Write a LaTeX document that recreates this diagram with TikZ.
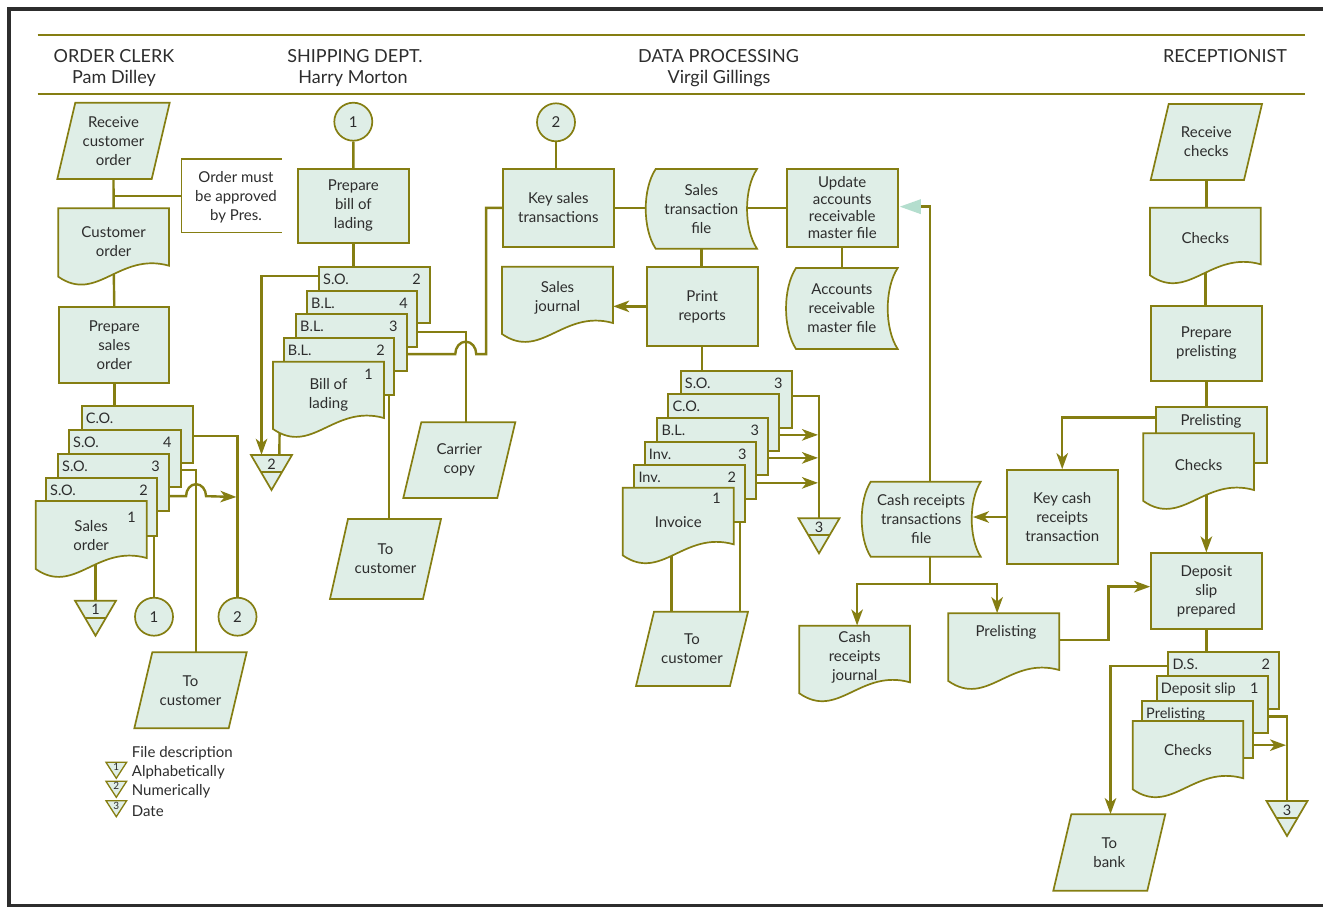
\documentclass[tikz,border=0pt]{standalone}
\usepackage{fontspec}
\setmainfont{Lato}
\usetikzlibrary{arrows.meta,calc}
\definecolor{ol}{RGB}{133,126,18}
\definecolor{fl}{RGB}{223,238,231}
\definecolor{tx}{RGB}{45,45,45}
\definecolor{fr}{RGB}{45,45,45}
\definecolor{tl}{RGB}{180,222,206}
\pgfdeclarelayer{bg}
\pgfsetlayers{bg,main}
\tikzset{
  shp/.style={draw=ol, fill=fl, line width=1.7pt},
  txt/.style={text=tx, font=\fontsize{15}{19}\selectfont, align=center, inner sep=0pt},
  lab/.style={text=tx, font=\fontsize{14.5}{16}\selectfont, inner sep=0pt},
  conn/.style={draw=ol, line width=2.4pt},
  arr/.style={conn, -{Stealth[length=16pt,width=11.5pt,inset=4.5pt]}},
  hdr/.style={text=tx, font=\fontsize{18}{20}\selectfont, inner sep=0pt, anchor=base},
  crc/.style={shp, circle, minimum size=38pt, inner sep=0pt, text=tx, font=\fontsize{15}{19}\selectfont},
}
\newcommand\PBox[6]{%
  \pgfmathsetmacro\myW{#4-#2}\pgfmathsetmacro\myH{#5-#3}%
  \node[shp, txt, minimum width=\myW pt, minimum height=\myH pt] (#1) at ({(#2+#4)/2},{(#3+#5)/2}) {#6};}
\newcommand\DocS[7]{%
  \pgfmathsetmacro\myW{#4-#2}\pgfmathsetmacro\myH{#5-#3}%
  \filldraw[shp] (#2,#3) -- (#4,#3) -- (#4,#5) .. controls ({#2+0.55*\myW},{#5-14}) and ({#2+0.35*\myW},{#5+38}) .. (#2,{#5+11}) -- cycle;
  \node[minimum width=\myW pt, minimum height=\myH pt, inner sep=0pt] (#1) at ({(#2+#4)/2},{(#3+#5)/2}) {};
  \node[txt] at ({(#2+#4)/2},{(#3+#5)/2+#6}) {#7};}
\newcommand\StorS[7]{%
  \pgfmathsetmacro\myW{#4-#2}\pgfmathsetmacro\myH{#5-#3}%
  \pgfmathsetmacro\myA{#3+0.25*\myH}\pgfmathsetmacro\myB{#3+0.75*\myH}%
  \pgfmathsetmacro\myL{#2+#6}\pgfmathsetmacro\myLc{#2-0.33*#6}\pgfmathsetmacro\myRc{#4-1.33*#6}%
  \filldraw[shp] (\myL,#3) -- (#4,#3) .. controls (\myRc,\myA) and (\myRc,\myB) .. (#4,#5) -- (\myL,#5) .. controls (\myLc,\myB) and (\myLc,\myA) .. (\myL,#3) -- cycle;
  \node[txt, minimum width=\myW pt, minimum height=\myH pt] (#1) at ({(#2+#4)/2},{(#3+#5)/2}) {#7};}
\newcommand\ParaS[6]{%
  \pgfmathsetmacro\myW{#4-#2+18}\pgfmathsetmacro\myH{#5-#3}%
  \filldraw[shp] ({#2+18},#3) -- ({#4+18},#3) -- (#4,#5) -- (#2,#5) -- cycle;
  \node[txt, minimum width=\myW pt, minimum height=\myH pt] (#1) at ({(#2+#4)/2+9},{(#3+#5)/2}) {#6};}
\newcommand\SheetS[7]{%
  \pgfmathsetmacro\myW{#4-#2}\pgfmathsetmacro\myH{#5-#3}%
  \node[shp, minimum width=\myW pt, minimum height=\myH pt, inner sep=0pt] (#1) at ({(#2+#4)/2},{(#3+#5)/2}) {};
  \node[lab, anchor=base west] at ({#2+4},{#3+17.5}) {#6};
  \node[lab, anchor=base east] at ({#4-9},{#3+17.5}) {#7};}
\newcommand\FTri[4]{%
  \filldraw[shp, line join=miter] ({#2-20.5},#3) -- ({#2+20.5},#3) -- (#2,{#3+35}) -- cycle;
  \draw[ol, line width=1.7pt] ({#2-10.5},{#3+17}) -- ({#2+10.5},{#3+17});
  \node[minimum width=41pt, minimum height=35pt, inner sep=0pt] (#1) at (#2,{#3+17.5}) {};
  \node[lab] at (#2,{#3+9}) {#4};}
\newcommand\STri[4]{%
  \filldraw[shp, line width=1.3pt] ({#2-10.3},#3) -- ({#2+10.3},#3) -- (#2,{#3+16}) -- cycle;
  \node[text=tx, font=\fontsize{10}{10}\selectfont, inner sep=0pt] (#1) at (#2,{#3+5}) {#4};}

\begin{document}
\begin{tikzpicture}[x=1pt,y=-1pt]
\clip (0,0) rectangle (1323,906);
\begin{pgfonlayer}{bg}
\fill[white] (0,0) rectangle (1323,906);
\end{pgfonlayer}
\draw[fr, line width=4pt] (9,9) rectangle (1340,905.5);
% header
\draw[ol, line width=1.5pt] (37.7,35) -- (1305,35);
\draw[ol, line width=1.5pt] (37.7,94) -- (1305,94);
\node[hdr] (h1) at (114,62) {ORDER CLERK};
\node[hdr] (h1b) at (114,83.5) {Pam Dilley};
\node[hdr] (h2) at (355,62) {SHIPPING DEPT.};
\node[hdr] (h2b) at (353,83.5) {Harry Morton};
\node[hdr] (h3) at (718.5,62) {DATA PROCESSING};
\node[hdr] (h3b) at (719,83.5) {Virgil Gillings};
\node[hdr] (h4) at (1225,62) {RECEPTIONIST};

% ORDER CLERK
\ParaS{rco}{57.3}{102.7}{151.7}{179}{Receive\\customer\\order}
\node[minimum width=100pt, minimum height=73pt, inner sep=0pt] (note) at (231.7,195.8) {};
\draw[ol, line width=1.4pt] (note.north east) -- (note.north west) -- (note.south west) -- (note.south east);
\node[txt] (notet) at (236,197) {Order must\\be approved\\by Pres.};
\DocS{cord}{58.3}{208.3}{169}{265.7}{5}{Customer\\order}
\PBox{pso}{59.3}{307.3}{169.3}{383}{Prepare\\sales\\order}
\SheetS{co}{81.7}{406}{192.7}{463}{C.O.}{}
\SheetS{so4}{69}{430}{180.7}{487}{S.O.}{4}
\SheetS{so3}{58}{454}{169}{511}{S.O.}{3}
\SheetS{so2}{46}{478}{157}{536}{S.O.}{2}
\DocS{so1}{35.7}{501}{146.7}{558}{6}{Sales\\order}
\node[lab, anchor=base east] (so1n) at (136,522) {1};
\node[crc] (oc1) at (154,616.7) {1};
\node[crc] (oc2) at (237.5,616.7) {2};
\FTri{t1}{95.5}{600.7}{1}
\ParaS{tc1}{134.3}{652.3}{228.7}{728.3}{To\\customer}
% legend
\node[txt, anchor=west] (lg0) at (131.7,753) {File description};
\STri{ls1}{116.3}{762.3}{1}
\node[txt, anchor=west] (lg1) at (131.7,772.3) {Alphabetically};
\STri{ls2}{116.3}{781.3}{2}
\node[txt, anchor=west] (lg2) at (131.7,791) {Numerically};
\STri{ls3}{116.3}{800.7}{3}
\node[txt, anchor=west] (lg3) at (131.7,811) {Date};

% SHIPPING
\node[crc] (sc1) at (353.3,121.7) {1};
\PBox{pbl}{298}{169}{408.7}{242.7}{Prepare\\bill of\\lading}
\SheetS{bso}{319}{266.7}{430}{323}{S.O.}{2}
\SheetS{bl4}{307}{290.7}{417}{347}{B.L.}{4}
\SheetS{bl3}{296}{314}{406.7}{371}{B.L.}{3}
\SheetS{bl2}{283.7}{338}{394}{395}{B.L.}{2}
\DocS{bl1}{273}{361.7}{384}{418}{5}{Bill of\\lading}
\node[lab, anchor=base east] (bl1n) at (373,379) {1};
\FTri{t2}{271.5}{455}{2}
\ParaS{car}{403.3}{422.3}{497.3}{498}{Carrier\\copy}
\ParaS{tc2}{330}{519}{423}{599}{To\\customer}

% DATA PROCESSING
\node[crc] (dc2) at (556,122.3) {2};
\PBox{ks}{502.7}{169}{614}{246.7}{Key sales\\transactions}
\StorS{stf}{645.7}{169}{757}{248.7}{10}{Sales\\transaction\\file}
\node[shp, txt, font=\fontsize{15}{17}\selectfont, minimum width=111pt, minimum height=77.7pt] (upd) at (842.2,207.85) {Update\\accounts\\receivable\\master file};
\DocS{sj}{502}{266.7}{613}{323}{3}{Sales\\journal}
\PBox{pr}{646.7}{267}{757.7}{345.7}{Print\\reports}
\StorS{arm}{786}{268}{897.7}{349}{10}{Accounts\\receivable\\master file}
\SheetS{dso}{680.7}{370.7}{791.7}{427.7}{S.O.}{3}
\SheetS{dco}{668.3}{394.3}{779.3}{451}{C.O.}{}
\SheetS{dbl}{657.3}{418.3}{768.3}{475}{B.L.}{3}
\SheetS{din3}{644.7}{442.3}{755.7}{499}{Inv.}{3}
\SheetS{din2}{634.3}{465.3}{745.3}{522.3}{Inv.}{2}
\DocS{inv}{622.7}{487.7}{733.7}{544.3}{6}{Invoice}
\node[lab, anchor=base east] (invn) at (721,503) {1};
\FTri{t3}{819}{518.3}{3}
\ParaS{tc3}{636}{611.7}{730}{686}{To\\customer}
\StorS{crf}{861.7}{481.7}{980.7}{556.7}{9}{Cash receipts\\transactions\\file}
\PBox{kc}{1006.7}{470}{1117.7}{564}{Key cash\\receipts\\transaction}
\DocS{crj}{799.3}{625.7}{910}{682.3}{3}{Cash\\receipts\\journal}
\DocS{prl}{948.3}{613.3}{1059.3}{670}{0}{}
\node[txt] (prlt) at (1006,632) {Prelisting};
\fill[tl] ($(upd.east)+(1.3,-1.2)$) coordinate (updin) -- ++(21,-7.5) -- ++(0,15) -- cycle;

% RECEPTIONIST
\ParaS{rch}{1150.7}{104}{1244}{180}{Receive\\checks}
\DocS{chk}{1150}{207.7}{1260.7}{264.3}{2}{Checks}
\PBox{ppl}{1151}{306}{1261.7}{380.7}{Prepare\\prelisting}
\SheetS{rpl}{1156}{406.7}{1267.3}{463.3}{}{}
\node[lab, font=\fontsize{15}{16}\selectfont, anchor=base] (rplt) at (1211,425) {Prelisting};
\DocS{rck}{1143.3}{433.3}{1254}{490}{3}{Checks}
\PBox{dsp}{1151}{553.3}{1261.7}{629}{Deposit\\slip\\prepared}
\SheetS{rds}{1168.3}{652.3}{1279.3}{709.3}{D.S.}{2}
\SheetS{rdp}{1156.7}{676}{1267.7}{732.7}{Deposit slip}{1}
\SheetS{rpl2}{1142}{701}{1252.7}{758.3}{Prelisting}{}
\DocS{rck2}{1132.7}{721}{1243.3}{778.3}{0}{Checks}
\FTri{t4}{1287}{801}{3}
\ParaS{bank}{1053.3}{814.3}{1147.3}{890.7}{To\\bank}

\begin{pgfonlayer}{bg}
% order clerk
\draw[conn] (rco.south) -- (cord.north);
\draw[conn] (rco.south |- note.west) -- (note.west);
\draw[conn] (cord.south) -- (pso.north);
\draw[conn] (pso.south) -- (pso.south |- co.north);
\draw[conn] ($(co.north east)+(0,30.7)$) -| (oc2);
\coordinate (j1) at (236.4,497);
\draw[arr] ($(so3.north east)+(0,43)$) -- ++(16.2,0) arc[start angle=180,end angle=0,x radius=10pt,y radius=12pt] -- (j1);
\draw[conn] ($(so4.north east)+(0,41)$) -| ($(tc1.north)+(5.2,0)$);
\draw[conn] (oc1 |- so2.south) -- (oc1);
\draw[conn] (t1.north |- so1.south) -- (t1.north);
% shipping
\draw[conn] (sc1) -- (pbl);
\draw[conn] (pbl.south) -- (pbl.south |- bso.north);
\draw[arr] ($(bso.north west)+(0,10.3)$) -| ($(t2.north west)+(10.7,0)$);
\draw[conn] ($(bl1.south west)+(7,0)$) -- ($(t2.north west)+(28.5,0)$);
\draw[conn] ($(bl4.north east)+(0,42)$) -| ($(car.north)+(6.4,0)$);
\draw[conn] ($(bl3.north east)+(0,41)$) -- ++(47.7,0) arc[start angle=180,end angle=0,x radius=10.5pt,y radius=12.5pt] -- ++(9.8,0) |- (ks.west);
\draw[conn] ($(bl2.south east)+(-6,0)$) coordinate (bl2o) -- (bl2o |- tc2.north);
% data processing
\draw[conn] (dc2) -- (dc2 |- ks.north);
\draw[conn] (ks.east) -- (ks.east -| stf.center);
\draw[conn] (upd.west -| stf.center) -- (upd.west);
\draw[conn] (upd.south) -- (upd.south |- arm.north);
\draw[conn] (stf.south) -- (stf.south |- pr.north);
\draw[arr] (pr.west) -- (pr.west -| sj.east);
\draw[conn] (pr.south) -- (pr.south |- dso.north);
\draw[conn] ($(dso.north east)+(0,26)$) -| (t3.north);
\draw[arr] ($(dco.north east)+(0,41.4)$) coordinate (dcoO) -- ($(dcoO -| t3.north)+(-1,0)$);
\draw[arr] ($(dbl.north east)+(0,40.4)$) coordinate (dblO) -- ($(dblO -| t3.north)+(-1,0)$);
\draw[arr] ($(din3.north east)+(0,41.4)$) coordinate (din3O) -- ($(din3O -| t3.north)+(-1,0)$);
\draw[conn] ($(inv.south west)+(49,0)$) coordinate (invO) -- (invO |- tc3.north);
\draw[conn] ($(din2.south east)+(-6,0)$) coordinate (din2O) -- (din2O |- tc3.north);
\draw[conn] ($(crf.north west)+(68.3,0)$) coordinate (crfO) |- ($(updin)+(21,0)$);
\draw[arr] (kc.west) -- ($(kc.west -| crf.east)+(-8,0)$);
\draw[conn] (crfO |- crf.south) -- ++(0,27.3) coordinate (crsplit);
\draw[arr] (crsplit) -| ($(crj.north west)+(58,0)$);
\draw[arr] (crsplit) -| ($(prl.north west)+(49,0)$);
\draw[arr] ($(prl.north east)+(0,26.7)$) -- ++(49,0) |- ($(dsp.west)+(0,-4.5)$);
% receptionist
\draw[conn] (rch.south) -- (rch.south |- chk.north);
\draw[conn] (chk.south) -- (chk.south |- ppl.north);
\draw[conn] (ppl.south) -- (ppl.south |- rpl.north);
\draw[arr] ($(rpl.north west)+(0,11.6)$) -| (kc);
\draw[arr] (rck.south -| ppl.south) -- (dsp.north);
\draw[conn] (dsp.south) -- (dsp.south |- rds.north);
\draw[arr] ($(rds.north west)+(0,14.4)$) -| ($(bank.north west)+(57.4,0)$);
\draw[conn] ($(rdp.north east)+(0,41.3)$) -| (t4.north);
\draw[arr] ($(rpl2.north east)+(0,45)$) coordinate (rplO) -- ($(rplO -| t4.north)+(-1,0)$);
\end{pgfonlayer}
\end{tikzpicture}
\end{document}
